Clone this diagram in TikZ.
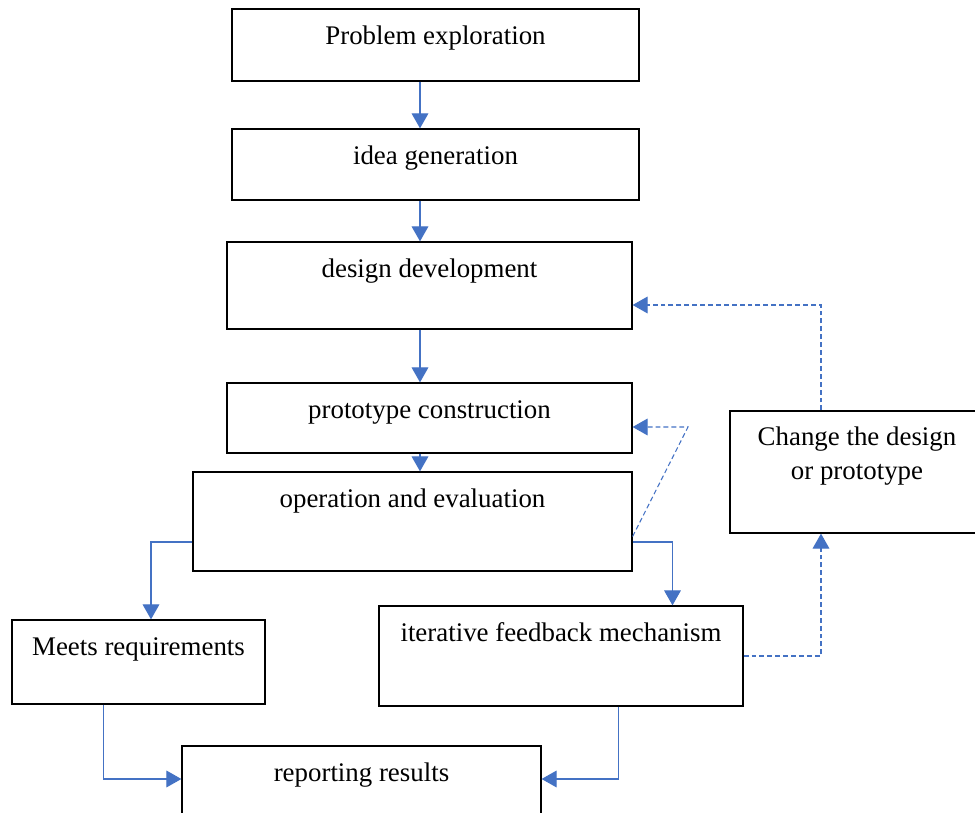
\documentclass[tikz,border=0pt]{standalone}
\usepackage{fontspec}
\setmainfont{Liberation Serif}
\usetikzlibrary{arrows.meta,calc}
\definecolor{wordblue}{HTML}{4472C4}

\begin{document}
\begin{tikzpicture}[x=0.02cm,y=-0.02cm,
  box/.style={draw,line width=0.75pt,inner sep=0pt},
  txt/.style={anchor=base,inner sep=0pt,font=\fontsize{15.3}{19}\selectfont},
  flow/.style={wordblue,line width=0.6pt,-{Triangle[width=9.5pt,length=8.5pt]}},
  back/.style={flow,dash pattern=on 2.8pt off 1.7pt}]
 \clip (0,0) rectangle (975,813);
 \node[box,minimum width=8.14cm,minimum height=1.44cm] (pe) at (435.5,45) {};
 \node[box,minimum width=8.14cm,minimum height=1.42cm] (ig) at (435.5,164.5) {};
 \node[box,minimum width=8.10cm,minimum height=1.74cm] (dd) at (429.5,285.5) {};
 \node[box,minimum width=8.10cm,minimum height=1.40cm] (pc) at (429.5,418) {};
 \node[box,minimum width=8.78cm,minimum height=1.98cm] (oe) at (412.5,521.5) {};
 \node[box,minimum width=5.06cm,minimum height=1.68cm] (mr) at (138.5,662) {};
 \node[box,minimum width=7.28cm,minimum height=2.00cm] (ifm) at (561,656) {};
 \node[box,minimum width=7.18cm,minimum height=2.00cm] (rr) at (361.5,796) {};
 \node[box,minimum width=5.08cm,minimum height=2.44cm] (cd) at (857,472) {};
 \node[txt] (pe-t) at ($(pe.north)+(0,36.5)$) {Problem exploration};
 \node[txt] (ig-t) at ($(ig.north)+(0,36.5)$) {idea generation};
 \node[txt] (dd-t) at ($(dd.north)+(0,36.5)$) {design development};
 \node[txt] (pc-t) at ($(pc.north)+(0,36.5)$) {prototype construction};
 \node[txt] (oe-t) at ($(oe.north)+(0,36.5)$) {operation and evaluation};
 \node[txt] (mr-t) at ($(mr.north)+(0,36.5)$) {Meets requirements};
 \node[txt] (ifm-t) at ($(ifm.north)+(0,36.5)$) {iterative feedback mechanism};
 \node[txt] (rr-t) at ($(rr.north)+(0,36.5)$) {reporting results};
 \node[txt] (cd-t) at ($(cd.north)+(0,35.5)$) {Change the design};
 \node[txt] (cd-u) at ($(cd.north)+(0,69.5)$) {or prototype};
 \coordinate (spine) at (420,0);
 \coordinate (split) at (0,542);
 \coordinate (kink) at (688,427);
 \draw[flow] (pe.south -| spine) -- (ig.north -| spine);
 \draw[flow] (ig.south -| spine) -- (dd.north -| spine);
 \draw[flow] (dd.south -| spine) -- (pc.north -| spine);
 \draw[flow] (pc.south -| spine) -- (oe.north -| spine);
 \draw[flow] (oe.west |- split) -| ($(mr.north)+(12.5,0)$);
 \draw[flow] (oe.east |- split) -| ($(ifm.north)+(111.5,0)$);
 \draw[flow] ($(mr.south)+(-35,0)$) |- ($(rr.west)+(0,-17)$);
 \draw[flow] ($(ifm.south)+(57.5,0)$) |- ($(rr.east)+(0,-17)$);
 \draw[back] ($(oe.east)+(0,15)$) -- (kink) -- (pc.east |- kink);
 \draw[back] ($(cd.north)+(-36,0)$) |- ($(dd.east)+(0,19.5)$);
 \draw[back] (ifm.east) -| ($(cd.south)+(-36,0)$);
\end{tikzpicture}
\end{document}
